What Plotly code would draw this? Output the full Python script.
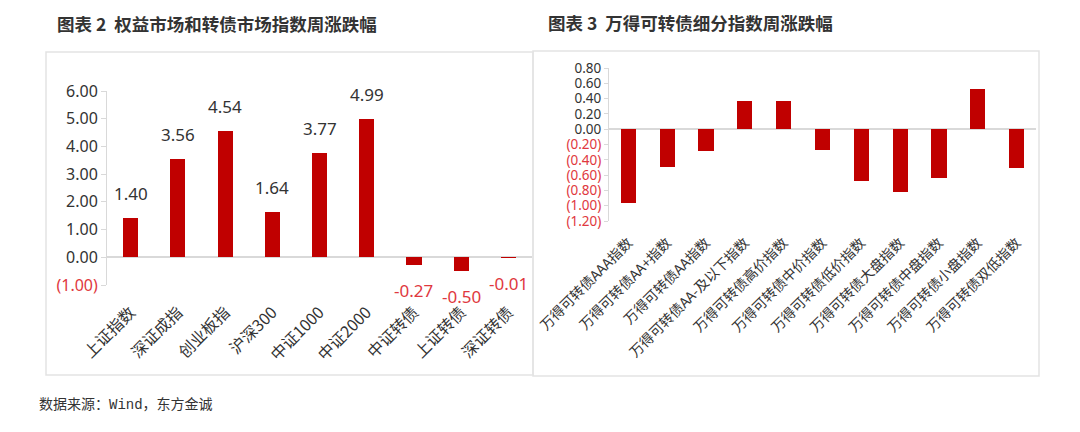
import plotly.graph_objects as go

# 图表2 data
left_cats = ['上证指数', '深证成指', '创业板指', '沪深300', '中证1000', '中证2000', '中证转债', '上证转债', '深证转债']
left_vals = [1.40, 3.56, 4.54, 1.64, 3.77, 4.99, -0.27, -0.50, -0.01]
left_ticks = [-1, 0, 1, 2, 3, 4, 5, 6]

# 图表3 data
right_cats = ['万得可转债AAA指数', '万得可转债AA+指数', '万得可转债AA指数', '万得可转债AA-及以下指数',
              '万得可转债高价指数', '万得可转债中价指数', '万得可转债低价指数', '万得可转债大盘指数',
              '万得可转债中盘指数', '万得可转债小盘指数', '万得可转债双低指数']
right_vals = [-0.97, -0.49, -0.28, 0.37, 0.37, -0.27, -0.68, -0.82, -0.64, 0.53, -0.51]
right_ticks = [-1.2, -1.0, -0.8, -0.6, -0.4, -0.2, 0.0, 0.2, 0.4, 0.6, 0.8]

BAR = '#C00000'
NEG = '#E0383E'
TXT = '#333333'
AX = '#D9D9D9'
NUMFONT = 'Noto Sans, Noto Sans CJK SC'
CJK = 'Noto Sans CJK SC'
W, H = 1080, 432
OFF = 8  # page body margin


def px(x):
    return (x - OFF) / W


def py(y):
    return 1 - (y - OFF) / H


def fmt_tick(v):
    s = f'{abs(v):.2f}'
    if v < 0:
        return f'<span style="color:{NEG}">({s})</span>'
    return s


fig = go.Figure()

fig.add_trace(go.Bar(x=left_cats, y=left_vals, marker_color=BAR, width=0.32,
                     xaxis='x', yaxis='y', showlegend=False))
fig.add_trace(go.Bar(x=right_cats, y=right_vals, marker_color=BAR, width=0.39,
                     xaxis='x2', yaxis='y2', showlegend=False))

# data labels for left chart
annotations = []
for c, v in zip(left_cats, left_vals):
    annotations.append(dict(
        x=c, y=v, xref='x', yref='y', text=f'{v:.2f}', showarrow=False,
        yanchor='bottom' if v >= 0 else 'top', yshift=11 if v >= 0 else -12,
        font=dict(family=NUMFONT, size=17, color=TXT if v >= 0 else NEG),
    ))

# titles and source
annotations += [
    dict(x=px(55), y=py(24), xref='paper', yref='paper', xanchor='left', yanchor='middle',
         text='<b>图表 2  权益市场和转债市场指数周涨跌幅</b>', showarrow=False,
         font=dict(family=CJK, size=17.5, color=TXT)),
    dict(x=px(546), y=py(22), xref='paper', yref='paper', xanchor='left', yanchor='middle',
         text='<b>图表 3  万得可转债细分指数周涨跌幅</b>', showarrow=False,
         font=dict(family=CJK, size=17.5, color=TXT)),
    dict(x=px(37), y=py(405), xref='paper', yref='paper', xanchor='left', yanchor='middle',
         text='数据来源：Wind，东方金诚', showarrow=False,
         font=dict(family='Liberation Mono, Noto Sans CJK SC', size=14, color=TXT)),
]

shapes = [
    dict(type='rect', xref='paper', yref='paper', x0=px(46), x1=px(533), y0=py(375), y1=py(52),
         line=dict(color='#E3E3E3', width=1.5)),
    dict(type='rect', xref='paper', yref='paper', x0=px(533), x1=px(1039), y0=py(376), y1=py(51),
         line=dict(color='#E3E3E3', width=1.5)),
]

fig.update_layout(
    template='none',
    width=W, height=H,
    margin=dict(l=0, r=0, t=0, b=0),
    paper_bgcolor='white', plot_bgcolor='white',
    bargap=0,
    annotations=annotations,
    shapes=shapes,
    xaxis=dict(domain=[px(107), px(532)], anchor='y', showline=False, ticks='', showgrid=False,
               automargin=False, tickangle=-45, ticklabelstandoff=14,
               tickfont=dict(family=CJK, size=16, color=TXT)),
    yaxis=dict(domain=[py(285), py(91)], anchor='x', range=[-1, 6],
               tickvals=left_ticks, ticktext=[fmt_tick(v) for v in left_ticks],
               showline=True, linecolor=AX, ticks='outside', ticklen=5, tickcolor=AX,
               showgrid=False, zeroline=True, zerolinecolor=AX, zerolinewidth=1.5, automargin=False,
               tickfont=dict(family=NUMFONT, size=16, color=TXT)),
    xaxis2=dict(domain=[px(609), px(1036)], anchor='y2', showline=False, ticks='', showgrid=False,
                automargin=False, tickangle=-45, ticklabelstandoff=10,
                tickfont=dict(family=CJK, size=14, color=TXT)),
    yaxis2=dict(domain=[py(221), py(68)], anchor='x2', range=[-1.2, 0.8],
                tickvals=right_ticks, ticktext=[fmt_tick(v) for v in right_ticks],
                showline=True, linecolor=AX, ticks='outside', ticklen=4, tickcolor=AX,
                showgrid=False, zeroline=True, zerolinecolor=AX, zerolinewidth=1.5, automargin=False,
                tickfont=dict(family=NUMFONT, size=13.5, color=TXT)),
)

fig.write_html('out.html')
